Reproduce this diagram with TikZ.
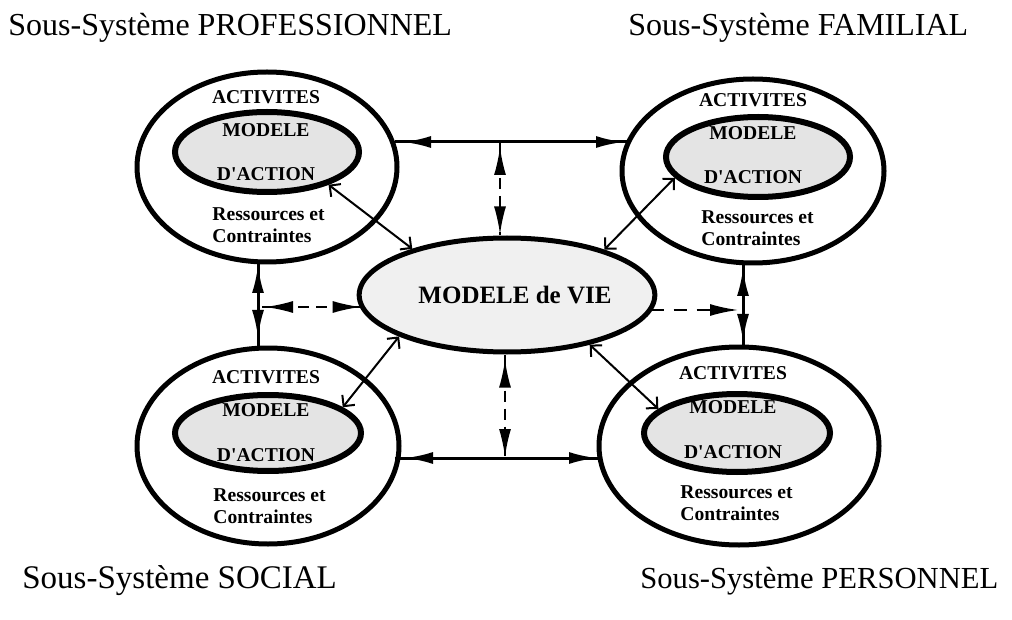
\documentclass[tikz,border=0pt]{standalone}
\usepackage{fontspec}
\setmainfont{Liberation Serif}
\newfontfamily\plainserif{Liberation Serif}
\usetikzlibrary{arrows.meta,decorations.markings,shapes.geometric}
\definecolor{innergray}{RGB}{228,228,228}
\definecolor{centergray}{RGB}{240,240,240}
\tikzset{
  bigtip/.tip={Latex[length=14pt,width=6pt]},
  outerell/.style={ellipse, draw, line width=2.5pt, inner sep=0pt},
  innerell/.style={ellipse, draw, line width=3pt, fill=innergray, inner sep=0pt},
  centerell/.style={ellipse, draw, line width=2.5pt, fill=centergray, inner sep=0pt,
    font=\plainserif\bfseries\fontsize{12.5}{14}\selectfont},
  lbl/.style={font=\plainserif\bfseries\fontsize{9.8}{11}\selectfont, inner sep=0pt},
  rclbl/.style={font=\plainserif\bfseries\fontsize{9.8}{11}\selectfont, inner sep=0pt, align=left, anchor=west},
  titlelbl/.style={font=\fontsize{16}{19}\selectfont, inner sep=0pt, anchor=base west},
  conn/.style={line width=1.5pt},
  dconn/.style={line width=1pt, dash pattern=on 5.5pt off 3.5pt},
  twotips/.style 2 args={postaction={decorate, decoration={markings,
      mark=at position #1 with {\arrowreversed{bigtip}},
      mark=at position #2 with {\arrow{bigtip}}}}},
  onetip/.style={postaction={decorate, decoration={markings,
      mark=at position #1 with {\arrow{bigtip}}}}},
  diag/.style={line width=1pt, {Straight Barb[length=4pt,width=8pt]}-{Straight Barb[length=4pt,width=8pt]}},
}
\begin{document}
\begin{tikzpicture}[x=0.5pt,y=-0.5pt]
\useasboundingbox (0,0) rectangle (1012,620);

% titles
\node[titlelbl] (tprof) at (8,36) {Sous-Système PROFESSIONNEL};
\node[titlelbl] (tfam) at (628,36) {Sous-Système FAMILIAL};
\node[titlelbl, font=\fontsize{16.5}{19}\selectfont] (tsoc) at (22,588) {Sous-Système SOCIAL};
\node[titlelbl, font=\fontsize{15.3}{19}\selectfont] (tpers) at (640,588) {Sous-Système PERSONNEL};

% outer ellipses
\node[outerell, minimum width=130pt, minimum height=95pt] (otl) at (267,167) {};
\node[outerell, minimum width=131pt, minimum height=92pt] (otr) at (753,171) {};
\node[outerell, minimum width=131pt, minimum height=98pt] (obl) at (268,446) {};
\node[outerell, minimum width=140pt, minimum height=99pt] (obr) at (739,446) {};

% inner ellipses
\node[innerell, minimum width=92pt, minimum height=40pt] (itl) at (267,152) {};
\node[innerell, minimum width=92pt, minimum height=40pt] (itr) at (758,157) {};
\node[innerell, minimum width=93pt, minimum height=38pt] (ibl) at (268,433) {};
\node[innerell, minimum width=93pt, minimum height=39pt] (ibr) at (737,433) {};

% center ellipse
\node[centerell, minimum width=115pt, minimum height=57pt] (c) at (507,295) {\hspace*{8pt}MODELE de VIE};

% labels top-left
\node[lbl] (atl) at (266,97) {ACTIVITES};
\node[lbl] (mtl) at (266,130) {MODELE};
\node[lbl] (dtl) at (266,174) {D'ACTION};
\node[rclbl] (rtl) at (212,225) {Ressources et\\Contraintes};
% labels top-right
\node[lbl] (atr) at (753,100) {ACTIVITES};
\node[lbl] (mtr) at (753,133) {MODELE};
\node[lbl] (dtr) at (753,177) {D'ACTION};
\node[rclbl] (rtr) at (701,228) {Ressources et\\Contraintes};
% labels bottom-left
\node[lbl] (abl) at (266,377) {ACTIVITES};
\node[lbl] (mbl) at (266,410) {MODELE};
\node[lbl] (dbl) at (266,455) {D'ACTION};
\node[rclbl] (rbl) at (213,506) {Ressources et\\Contraintes};
% labels bottom-right
\node[lbl] (abr) at (733,373) {ACTIVITES};
\node[lbl] (mbr) at (733,407) {MODELE};
\node[lbl] (dbr) at (733,452) {D'ACTION};
\node[rclbl] (rbr) at (680,503) {Ressources et\\Contraintes};

% connector end points
\coordinate (h1a) at (395,142);
\coordinate (h1b) at (627,142);
\coordinate (tmid) at (500,142);
\coordinate (lv1) at (258,261);
\coordinate (lv2) at (258,349);
\coordinate (lmid) at (262,307);
\coordinate (rv1) at (743,263);
\coordinate (rv2) at (743,348);
\coordinate (rmid) at (739,310);
\coordinate (h2a) at (395,458);
\coordinate (h2b) at (601,458);
\coordinate (bmid) at (505,458);

% thick solid connectors
\draw[conn, twotips={4pt}{-1.5pt}] (h1a) -- (h1b);
\draw[conn, twotips={2pt}{-5.5pt}] (lv1) -- (lv2);
\draw[conn, twotips={2.5pt}{-3pt}] (rv1) -- (rv2);
\draw[conn, twotips={5pt}{-2pt}] (h2a) -- (h2b);

% dashed connectors
\draw[dconn, twotips={2.5pt}{-0.5pt}] (tmid) -- (tmid |- c.north);
\draw[dconn, twotips={1.5pt}{-0.5pt}] (lmid) -- (c.186 |- lmid);
\draw[dconn, dash pattern=on 6.5pt off 5pt, onetip={-0.5pt}] (c.-7.7 |- rmid) -- (rmid);
\draw[dconn, twotips={2.5pt}{-0.5pt}] (bmid |- c.south) -- (bmid);

% diagonal connectors
\draw[diag] (itl.-28) -- (c.154.5);
\draw[diag] (itr.-166.5) -- (c.25.7);
\draw[diag] (ibl.19) -- (c.201.4);
\draw[diag] (ibr.163) -- (c.-31.6);
\end{tikzpicture}
\end{document}
